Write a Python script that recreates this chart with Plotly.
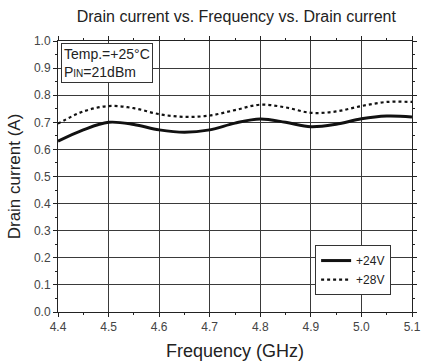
import plotly.graph_objects as go

freq = [4.40, 4.45, 4.50, 4.55, 4.60, 4.65, 4.70, 4.75, 4.80, 4.85, 4.90, 4.95, 5.00, 5.05, 5.10]
i_24v = [0.630, 0.672, 0.700, 0.692, 0.672, 0.663, 0.672, 0.697, 0.712, 0.700, 0.684, 0.693, 0.713, 0.723, 0.720]
i_28v = [0.695, 0.740, 0.760, 0.752, 0.730, 0.720, 0.725, 0.745, 0.765, 0.755, 0.735, 0.740, 0.760, 0.775, 0.775]
x_ticks = [4.4, 4.5, 4.6, 4.7, 4.8, 4.9, 5.0, 5.1]
y_ticks = [0.0, 0.1, 0.2, 0.3, 0.4, 0.5, 0.6, 0.7, 0.8, 0.9, 1.0]

FONT = "Liberation Sans, Arial, sans-serif"

fig = go.Figure()
fig.add_trace(go.Scatter(x=freq, y=i_24v, mode="lines", name="+24V",
                         line=dict(color="#111111", width=3, shape="spline")))
fig.add_trace(go.Scatter(x=freq, y=i_28v, mode="lines", name="+28V",
                         line=dict(color="#111111", width=2.2, dash="dot", shape="spline")))

axis_common = dict(showline=True, linecolor="#222222", linewidth=1, mirror="ticks",
                   showgrid=True, gridcolor="#3a3a3a", gridwidth=1,
                   ticks="outside", ticklen=4, tickcolor="#222222",
                   tickfont=dict(family=FONT, size=12, color="#444444"),
                   ticklabeloverflow="allow",
                   zeroline=False, automargin=False)

fig.update_xaxes(range=[4.4, 5.1], tickvals=x_ticks, ticktext=[f"{v:.1f}" for v in x_ticks],
                 minor=dict(dtick=0.05, ticks="outside", ticklen=2, tickcolor="#222222", showgrid=False),
                 title=dict(text="Frequency (GHz)", font=dict(family=FONT, size=18, color="#222222"), standoff=10),
                 **axis_common)
fig.update_yaxes(range=[0.0, 1.0], tickvals=y_ticks, ticktext=[f"{v:.1f}" for v in y_ticks],
                 minor=dict(dtick=0.05, ticks="outside", ticklen=2, tickcolor="#222222", showgrid=False),
                 title=dict(text="Drain current (A)", font=dict(family=FONT, size=17, color="#222222"), standoff=8),
                 **axis_common)

fig.add_annotation(xref="paper", yref="paper", x=0.008, y=0.993, xanchor="left", yanchor="top",
                   text="Temp.=+25°C<br>P<span style='font-size:10px'>IN</span>=21dBm",
                   showarrow=False, align="left",
                   font=dict(family=FONT, size=14, color="#222222"),
                   bordercolor="#333333", borderwidth=1, borderpad=2, bgcolor="white")

fig.update_layout(
    width=422, height=362,
    margin=dict(l=58, r=10, t=41, b=50),
    paper_bgcolor="white", plot_bgcolor="white",
    title=dict(text="Drain current vs. Frequency vs. Drain current", x=0.56, xanchor="center",
               y=0.956, yanchor="middle", font=dict(family=FONT, size=16, color="#222222")),
    legend=dict(x=0.941, y=0.247, xanchor="right", yanchor="top",
                bordercolor="#333333", borderwidth=1, bgcolor="white",
                font=dict(family=FONT, size=12, color="#222222"),
                itemwidth=30, tracegroupgap=0),
    showlegend=True,
)

# remove the browser's default body margin so the 422x362 figure fills the window exactly
fig.write_html("out.html", config={"displayModeBar": False},
               post_script="document.body.style.margin='0';document.body.style.overflow='hidden';")
